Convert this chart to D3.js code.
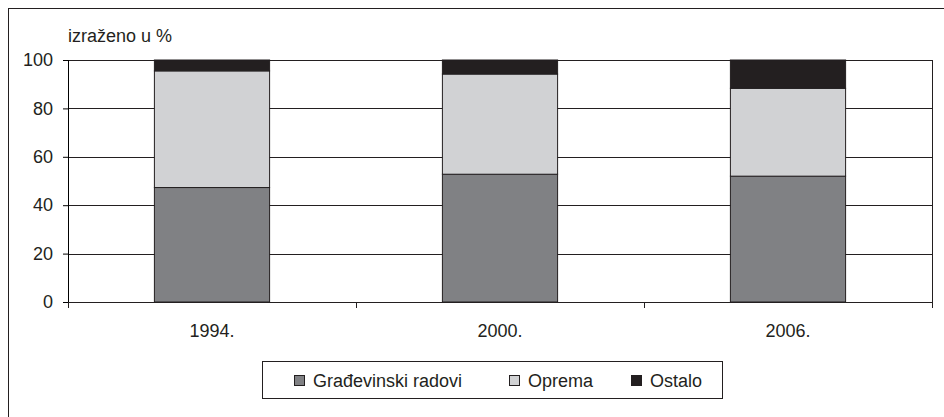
<!DOCTYPE html>
<html>
<head>
<meta charset="utf-8">
<script src="https://cdn.jsdelivr.net/npm/d3@7"></script>
<style>
  body { margin: 0; background: #fff; }
  text { font-family: "Liberation Sans", Arial, sans-serif; fill: #231f20; }
</style>
</head>
<body>
<script>
// data (percent shares)
var years = ["1994.", "2000.", "2006."];
var gradevinski = [47.3, 52.8, 52.0];
var oprema = [48.2, 41.4, 36.3];
var ostalo = [4.5, 5.8, 11.7];
var seriesNames = ["Građevinski radovi", "Oprema", "Ostalo"];
var yTicks = [0, 20, 40, 60, 80, 100];

var colors = ["#808184", "#d1d2d4", "#231f20"];

var W = 944, H = 417;
var margin = {top: 60, right: 12, bottom: 115, left: 68},
    width = W - margin.left - margin.right,
    height = H - margin.top - margin.bottom;

var svg = d3.select("body").append("svg")
    .attr("width", W)
    .attr("height", H);

// outer frame (runs off the right / bottom of the picture)
svg.append("rect")
    .attr("x", 8.5).attr("y", 8.5)
    .attr("width", 960).attr("height", 440)
    .attr("fill", "none")
    .attr("stroke", "#231f20");

var g = svg.append("g")
    .attr("transform", "translate(" + margin.left + "," + margin.top + ")");

var table = years.map(function(y, i) {
  return {year: y, g: gradevinski[i], o: oprema[i], s: ostalo[i]};
});
var stack = d3.stack().keys(["g", "o", "s"])(table);

var x = d3.scaleBand().domain(years).range([0, width]).paddingInner(0.6).paddingOuter(0.3);
var y = d3.scaleLinear().domain([0, 100]).range([height, 0]);

// grid lines
g.selectAll(".grid").data(yTicks.slice(1)).enter().append("line")
    .attr("x1", 0).attr("x2", width)
    .attr("y1", function(d) { return Math.round(y(d)) + 0.5; })
    .attr("y2", function(d) { return Math.round(y(d)) + 0.5; })
    .attr("stroke", "#231f20");

// right border of plot
g.append("line")
    .attr("x1", width + 0.5).attr("x2", width + 0.5)
    .attr("y1", 0).attr("y2", height)
    .attr("stroke", "#231f20");

// bars
g.selectAll(".layer").data(stack).enter().append("g")
    .attr("fill", function(d, i) { return colors[i]; })
  .selectAll("rect").data(function(d) { return d; }).enter().append("rect")
    .attr("x", function(d) { return x(d.data.year); })
    .attr("y", function(d) { return y(d[1]); })
    .attr("width", x.bandwidth())
    .attr("height", function(d) { return y(d[0]) - y(d[1]); })
    .attr("stroke", "#231f20")
    .attr("stroke-width", 1);

// y axis
var yAxis = g.append("g")
    .call(d3.axisLeft(y).tickValues(yTicks).tickSize(5).tickPadding(10));
yAxis.select(".domain").attr("d", "M0.5,0V" + (height + 6));
yAxis.selectAll("text").style("font-size", "18px");

// x axis with ticks between categories
var xAxis = g.append("g")
    .attr("transform", "translate(0," + height + ")");
xAxis.append("line")
    .attr("x1", 0).attr("x2", width)
    .attr("y1", 0.5).attr("y2", 0.5)
    .attr("stroke", "#231f20");
var step = x.step();
g.append("g").attr("transform", "translate(0," + height + ")")
  .selectAll("line").data(d3.range(years.length + 1)).enter().append("line")
    .attr("x1", function(i) { return Math.round(i * width / years.length) + 0.5; })
    .attr("x2", function(i) { return Math.round(i * width / years.length) + 0.5; })
    .attr("y1", 0).attr("y2", 6)
    .attr("stroke", "#231f20");
xAxis.selectAll("text").data(years).enter().append("text")
    .attr("x", function(d) { return x(d) + x.bandwidth() / 2; })
    .attr("y", 35)
    .attr("text-anchor", "middle")
    .style("font-size", "18px")
    .text(function(d) { return d; });

// unit label
svg.append("text")
    .attr("x", 68).attr("y", 42)
    .style("font-size", "18px")
    .text("izraženo u %");

// legend
var legend = svg.append("g").attr("transform", "translate(262,361)");
legend.append("rect")
    .attr("x", 0.5).attr("y", 0.5)
    .attr("width", 460).attr("height", 37)
    .attr("fill", "#fff").attr("stroke", "#231f20");
var legX = [32, 247, 369];
var items = legend.selectAll(".item").data(seriesNames).enter().append("g")
    .attr("transform", function(d, i) { return "translate(" + legX[i] + ",0)"; });
items.append("rect")
    .attr("x", 0.5).attr("y", 14.5)
    .attr("width", 10).attr("height", 10)
    .attr("fill", function(d, i) { return colors[i]; })
    .attr("stroke", "#231f20");
items.append("text")
    .attr("x", 19).attr("y", 25.5)
    .style("font-size", "18px")
    .text(function(d) { return d; });
</script>
</body>
</html>
